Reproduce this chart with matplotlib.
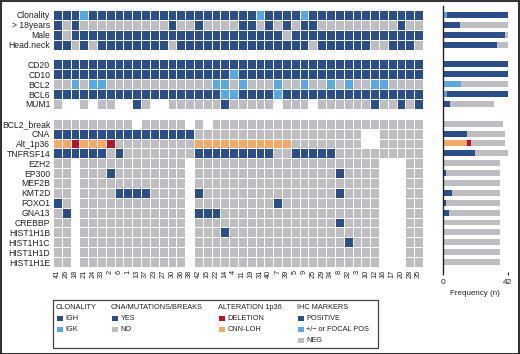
import matplotlib
matplotlib.use("Agg")
import matplotlib.pyplot as plt
import numpy as np
from matplotlib.colors import ListedColormap, BoundaryNorm
from matplotlib.patches import Rectangle

plt.rcParams['font.family'] = ['Liberation Sans', 'DejaVu Sans']

# ---------------- data ----------------
patients = [41, 26, 18, 21, 24, 33, 2, 6, 1, 13, 37, 23, 27, 30, 36, 38, 42, 15, 22, 14,
            4, 11, 19, 31, 40, 7, 39, 5, 9, 25, 29, 34, 8, 32, 3, 10, 12, 16, 17, 20, 28, 35]

# codes: D = IGH / YES / POSITIVE, L = IGK / +/- or focal pos, N = NO / NEG,
#        R = deletion, O = CNN-LOH, - = not available
clonality = "DDDLDDDDDD" "DDDDDDDDDD" "DDDLDDDDLD" "DDDDDDDDDD" "DD"
over18    = "DNDNNNNNNN" "NNNDNNDNNN" "NDDNDNDNDD" "NNNNNNNNND" "NN"
male      = "DNDDDDDDDD" "DDDDDDDDDD" "DDDDDDNDDD" "DDDDDDDDDD" "DD"
headneck  = "DDNDNDDDDD" "DDDNDDDDDD" "DDDDDDDDDN" "DDDDDDNNDD" "DN"
cd20      = "DDDDDDDDDD" "DDDDDDDDDD" "DDDDDDDDDD" "DDDDDDDDDD" "DD"
cd10      = "DDDDDDDDDD" "DDDDDDDDDD" "LDDDDDDDDD" "DDDDDDDDDD" "DD"
bcl2      = "NNLNLLNNNN" "NNNNNNNNLL" "NLNNNLNNLN" "NLNLNNLLNN" "NN"
bcl6      = "DDDDDDDDDD" "DDDDDDDDDL" "LDDDDLDDDD" "DDDDDDDDDD" "DD"
mum1      = "N--N-NN--D" "N--NNNNNND" "NNNNN-NNN-" "NNNNNNDNND" "ND"
bcl2_break= "NNNNNNNNN-" "NNNNN-N-NN" "NNNNNNNNNN" "NNNNNNNNNN" "NN"
cna       = "DDDDDDDDDD" "DDDDDDNNNN" "NNNNNNNNNN" "NNNNN--NNN" "NN"
alt_1p36  = "OOROOORNNN" "NNNNNNOOOO" "OOOOOOONNN" "NNNNN--NNN" "NN"
tnfrsf14  = "DDDDDDNDNN" "NNNNNNDDDD" "DDDDDNNDDD" "DDNNNNNNNN" "NN"
ezh2      = "NN-NNNNNNN" "NNNNN-NNNN" "NNNNNNNNNN" "NNNNNNN---" "NN"
ep300     = "NN-NNNDNNN" "NNNNN-NNNN" "NNNNNNNNNN" "NNDNNNN---" "NN"
mef2b     = "NN-NNNNNNN" "NNNNN-NNNN" "NNNNNNNNNN" "NNNNNNN---" "NN"
kmt2d     = "NN-NNNNDDD" "DNNNN-DNNN" "NNNNNNNNNN" "NNDNNNN---" "NN"
foxo1     = "DN-NNNNNNN" "NNNNN-NNNN" "NNNNNDNNNN" "NNNNNNN---" "NN"
gna13     = "ND-NNNNNNN" "NNNNN-DDDN" "NNNNNNNNNN" "NNNNNNN---" "NN"
crebbp    = "NN-NNNNNNN" "NNNNN-NNNN" "NNNNNNNNNN" "NNDNNNN---" "NN"
hist1h1b  = "NN-NNNNNNN" "NNNNN-NNND" "NNNNNNNNNN" "NNNNNNN---" "NN"
hist1h1c  = "NN-NNNNNNN" "NNNNN-NNNN" "NNNNNNNNNN" "NNNDNNN---" "NN"
hist1h1d  = "NN-NNNNNNN" "NNNNN-NNNN" "NNNNNNNNNN" "NNNNNNN---" "NN"
hist1h1e  = "NN-NNNNNNN" "NNNNN-NNNN" "NNNNNNNNNN" "NNNNNNN---" "NN"

row_labels = ["Clonality", "> 18years", "Male", "Head.neck", None,
              "CD20", "CD10", "BCL2", "BCL6", "MUM1", None,
              "BCL2_break", "CNA", "Alt_1p36", "TNFRSF14", "EZH2", "EP300", "MEF2B",
              "KMT2D", "FOXO1", "GNA13", "CREBBP", "HIST1H1B", "HIST1H1C",
              "HIST1H1D", "HIST1H1E"]
row_values = [clonality, over18, male, headneck, None,
              cd20, cd10, bcl2, bcl6, mum1, None,
              bcl2_break, cna, alt_1p36, tnfrsf14, ezh2, ep300, mef2b,
              kmt2d, foxo1, gna13, crebbp, hist1h1b, hist1h1c, hist1h1d, hist1h1e]

# ---------------- style ----------------
codes = ['-', 'D', 'L', 'N', 'R', 'O']
code_colors = ['#FFFFFF', '#2B4E86', '#5BA7E0', '#BDBDC2', '#B3152E', '#F1AA6A']
bar_order = ['L', 'O', 'R', 'D', 'N']

W, H = 520, 354
fig = plt.figure(figsize=(W / 100, H / 100), dpi=100)

def ax_rect(x0, y0, x1, y1):
    return [x0 / W, 1 - y1 / H, (x1 - x0) / W, (y1 - y0) / H]

n_rows = len(row_labels)
n_cols = len(patients)
mat = np.zeros((n_rows, n_cols))
for i, vals in enumerate(row_values):
    if vals is None:
        continue
    for j, c in enumerate(vals):
        mat[i, j] = codes.index(c)

cmap = ListedColormap(code_colors)
norm = BoundaryNorm(np.arange(-0.5, len(codes) + 0.5), cmap.N)

ax = fig.add_axes(ax_rect(53, 10, 423, 267))
ax.pcolormesh(np.arange(n_cols + 1), np.arange(n_rows + 1), mat, cmap=cmap, norm=norm,
              edgecolors='white', linewidth=0.55)
ax.set_xlim(0, n_cols)
ax.set_ylim(n_rows, 0)
yt = [i + 0.5 for i, l in enumerate(row_labels) if l is not None]
ax.set_yticks(yt)
ax.set_yticklabels([l for l in row_labels if l is not None], fontsize=6.2, color='#222222')
ax.set_xticks(np.arange(n_cols) + 0.5)
ax.set_xticklabels([str(p) for p in patients], rotation=90, fontsize=5.3, color='#222222')
ax.tick_params(length=0, pad=2)
for s in ax.spines.values():
    s.set_visible(False)

# frequency bars
axb = fig.add_axes(ax_rect(442.7, 6, 507.7, 272))
for i, vals in enumerate(row_values):
    if vals is None:
        continue
    left = 0
    for c in bar_order:
        n = vals.count(c)
        if n:
            axb.barh(i + 0.5, n, left=left, height=0.6, color=code_colors[codes.index(c)],
                     linewidth=0)
            left += n
axb.set_xlim(0, n_cols)
axb.set_ylim(n_rows + 0.506, -0.405)
axb.set_yticks([])
axb.set_xticks([0, n_cols])
axb.set_xticklabels(['0', str(n_cols)], fontsize=6, color='#222222')
axb.tick_params(axis='x', length=2, width=0.8, pad=3, color='#222222')
for k in ['top', 'right', 'bottom']:
    axb.spines[k].set_visible(False)
axb.spines['left'].set_linewidth(1.0)
axb.spines['left'].set_color('#222222')
axb.set_xlabel('Frequency (n)', fontsize=5.8, color='#222222', labelpad=3)

# legend
leg_sections = [
    (56, 'CLONALITY', [('D', 'IGH'), ('L', 'IGK')]),
    (111, 'CNA/MUTATIONS/BREAKS', [('D', 'YES'), ('N', 'NO')]),
    (218, 'ALTERATION 1p36', [('R', 'DELETION'), ('O', 'CNN-LOH')]),
    (297, 'IHC MARKERS', [('D', 'POSITIVE'), ('L', '+/\u2212 or FOCAL POS'), ('N', 'NEG')]),
]
fig.patches.append(Rectangle((53 / W, 1 - 347.5 / H), (378 - 53) / W, (347.5 - 300) / H,
                             transform=fig.transFigure, fill=False, edgecolor='#444444',
                             linewidth=0.9))
for x0, title, items in leg_sections:
    fig.text(x0 / W, 1 - 307.5 / H, title, fontsize=5.3, color='#222222', va='center', ha='left')
    for k, (c, lab) in enumerate(items):
        yc = 318.5 + 11 * k
        fig.patches.append(Rectangle(((x0 + 0.5) / W, 1 - (yc + 2.6) / H), 6.5 / W, 5.2 / H,
                                     transform=fig.transFigure,
                                     facecolor=code_colors[codes.index(c)], linewidth=0))
        fig.text((x0 + 9.5) / W, 1 - yc / H, lab, fontsize=5.3, color='#222222',
                 va='center', ha='left')

# figure frame
fig.patches.append(Rectangle((0.5 / W, 0.5 / H), (W - 1.5) / W, (H - 1.5) / H,
                             transform=fig.transFigure, fill=False, edgecolor='#333333',
                             linewidth=1.5))

fig.savefig('out.png', dpi=100)
